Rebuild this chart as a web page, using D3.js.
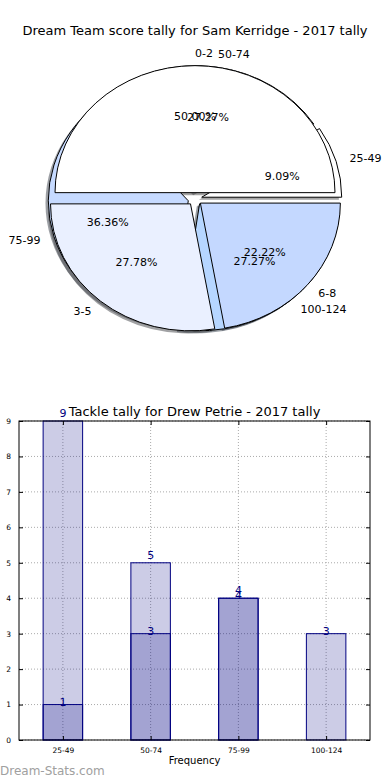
<!DOCTYPE html>
<html>
<head>
<meta charset="utf-8">
<script src="https://cdn.jsdelivr.net/npm/d3@7"></script>
<style>
  body { margin: 0; background: #fff; }
  text { font-family: "DejaVu Sans", sans-serif; }
</style>
</head>
<body>
<div class="canvas"></div>
<script>
// score tally pie (two pies drawn on top of each other)
const scoreLabels = ['0-2', '3-5', '6-8'];
const scoreValues = [9, 5, 4];
const scoreColours = ['#ffffff', '#eaf0ff', '#c4d8ff'];

const rangeLabels = ['25-49', '50-74', '75-99', '100-124'];
const rangeValues = [1, 3, 4, 3];
const rangeColours = ['#ffffff', '#eaf0ff', '#c6daff', '#b6d6ff'];

// tackle tally bars
const barCategories = ['25-49', '50-74', '75-99', '100-124'];
const tacklesA = [9, 5, 4];
const tacklesB = [1, 3, 4, 3];
const yTicks = [0, 1, 2, 3, 4, 5, 6, 7, 8, 9];

const svg = d3.select('.canvas')
    .append('svg')
    .attr('width', 390)
    .attr('height', 780)

svg.append('text')
    .attr('x', 195).attr('y', 35)
    .attr('text-anchor', 'middle')
    .style('font-size', '13px')
    .text('Dream Team score tally for Sam Kerridge - 2017 tally')

// ---- pie ----
const cx = 195, cy = 199, rx = 140, ry = 127, explode = 0.05
const pieLayout = d3.pie().sort(null).value(d => d)
    .startAngle(Math.PI / 2).endAngle(Math.PI / 2 - 2 * Math.PI)
const arc = d3.arc().innerRadius(0).outerRadius(rx)

const pies = [
  {labels: rangeLabels, values: rangeValues, colours: rangeColours},
  {labels: scoreLabels, values: scoreValues, colours: scoreColours}
]
pies.forEach(p => { p.arcs = pieLayout(p.values) })

const pieG = svg.append('g')
    .attr('transform', `translate(${cx},${cy}) scale(1,${ry / rx})`)

const offset = d => {
  const a = (d.startAngle + d.endAngle) / 2
  return [explode * rx * Math.sin(a), -explode * rx * Math.cos(a)]
}

// shadows first
pies.forEach(p => {
  pieG.append('g').selectAll('path')
    .data(p.arcs)
    .enter().append('path')
    .attr('d', arc)
    .attr('transform', d => {
      const [dx, dy] = offset(d)
      return `translate(${dx - 0.02 * rx},${dy + 0.02 * rx})`
    })
    .attr('fill', (d, i) => d3.color(p.colours[i]).darker(3.5))
    .attr('fill-opacity', 0.5)
})

pies.forEach(p => {
  pieG.append('g').selectAll('path')
    .data(p.arcs)
    .enter().append('path')
    .attr('d', arc)
    .attr('transform', d => `translate(${offset(d)})`)
    .attr('fill', (d, i) => p.colours[i])
    .attr('stroke', '#000')
    .attr('stroke-width', 1)
    .attr('vector-effect', 'non-scaling-stroke')
})

const labelG = svg.append('g')
pies.forEach(p => {
  const total = d3.sum(p.values)
  p.arcs.forEach((d, i) => {
    const a = (d.startAngle + d.endAngle) / 2
    const s = Math.sin(a), c = Math.cos(a)
    labelG.append('text')
      .attr('x', cx + (1.1 + explode) * rx * s)
      .attr('y', cy - (1.1 + explode) * ry * c)
      .attr('dy', '0.35em')
      .attr('text-anchor', s >= -1e-9 ? 'start' : 'end')
      .style('font-size', '11px')
      .text(p.labels[i])
    labelG.append('text')
      .attr('x', cx + (0.6 + explode) * rx * s)
      .attr('y', cy - (0.6 + explode) * ry * c)
      .attr('dy', '0.35em')
      .attr('text-anchor', 'middle')
      .style('font-size', '11px')
      .text((100 * p.values[i] / total).toFixed(2) + '%')
  })
})

// ---- bars ----
const margin = {top: 421, left: 19, right: 20, bottom: 40}
const graphWidth = 390 - margin.left - margin.right
const graphHeight = 740 - margin.top

const x = d3.scaleLinear().domain([-0.5, 3.5]).range([0, graphWidth])
const y = d3.scaleLinear().domain([0, 9]).range([graphHeight, 0])
const xCat = d3.scalePoint().domain(barCategories).range([x(0), x(3)])
const barW = x(0.45) - x(0)

const graph = svg.append('g')
    .attr('transform', `translate(${margin.left},${margin.top})`)

// grid
graph.append('g').selectAll('line')
    .data(yTicks)
    .enter().append('line')
    .attr('x1', 0).attr('x2', graphWidth)
    .attr('y1', d => y(d)).attr('y2', d => y(d))
    .attr('stroke', '#aaa').attr('stroke-dasharray', '1,2')
graph.append('g').selectAll('line')
    .data(barCategories)
    .enter().append('line')
    .attr('x1', d => xCat(d)).attr('x2', d => xCat(d))
    .attr('y1', 0).attr('y2', graphHeight)
    .attr('stroke', '#aaa').attr('stroke-dasharray', '1,2')

const drawBars = (vals, lift) => {
  graph.append('g').selectAll('rect')
    .data(vals)
    .enter().append('rect')
    .attr('x', (d, i) => x(i) - barW / 2)
    .attr('y', d => y(d))
    .attr('width', barW)
    .attr('height', d => graphHeight - y(d))
    .attr('fill', 'navy')
    .attr('fill-opacity', 0.2)
    .attr('stroke', 'navy')
    .attr('stroke-width', 1)
  graph.append('g').selectAll('text')
    .data(vals)
    .enter().append('text')
    .attr('x', (d, i) => x(i))
    .attr('y', d => y(d) - lift)
    .attr('text-anchor', 'middle')
    .attr('fill', 'navy')
    .style('font-size', '11px')
    .text(d => d)
}
drawBars(tacklesA, 4)
drawBars(tacklesB, -1)

// frame + ticks
graph.append('rect')
    .attr('width', graphWidth).attr('height', graphHeight)
    .attr('fill', 'none').attr('stroke', '#000')

const yAxis = d3.axisLeft(y).tickValues(yTicks).tickSize(-4).tickPadding(8)
const yAxisR = d3.axisRight(y).tickValues(yTicks).tickSize(-4).tickFormat('')
const xAxis = d3.axisBottom(xCat).tickSize(-4).tickPadding(8)
const xAxisT = d3.axisTop(xCat).tickSize(-4).tickFormat('')

graph.append('g').call(yAxis)
graph.append('g').attr('transform', `translate(${graphWidth},0)`).call(yAxisR)
graph.append('g').attr('transform', `translate(0,${graphHeight})`).call(xAxis)
graph.append('g').call(xAxisT)
graph.selectAll('.domain').remove()
graph.selectAll('.tick text')
    .style('font-family', '"DejaVu Sans", sans-serif')
    .style('font-size', '7.5px')
    .attr('fill', '#000')

svg.append('text')
    .attr('x', margin.left + graphWidth / 2).attr('y', 416)
    .attr('text-anchor', 'middle')
    .style('font-size', '13px')
    .text('Tackle tally for Drew Petrie - 2017 tally')

svg.append('text')
    .attr('x', margin.left + graphWidth / 2).attr('y', 764)
    .attr('text-anchor', 'middle')
    .style('font-size', '10px')
    .text('Frequency')

svg.append('text')
    .attr('x', 0).attr('y', 775)
    .attr('fill', '#a0a0a0')
    .style('font-size', '12px')
    .text('Dream-Stats.com')
</script>
</body>
</html>
